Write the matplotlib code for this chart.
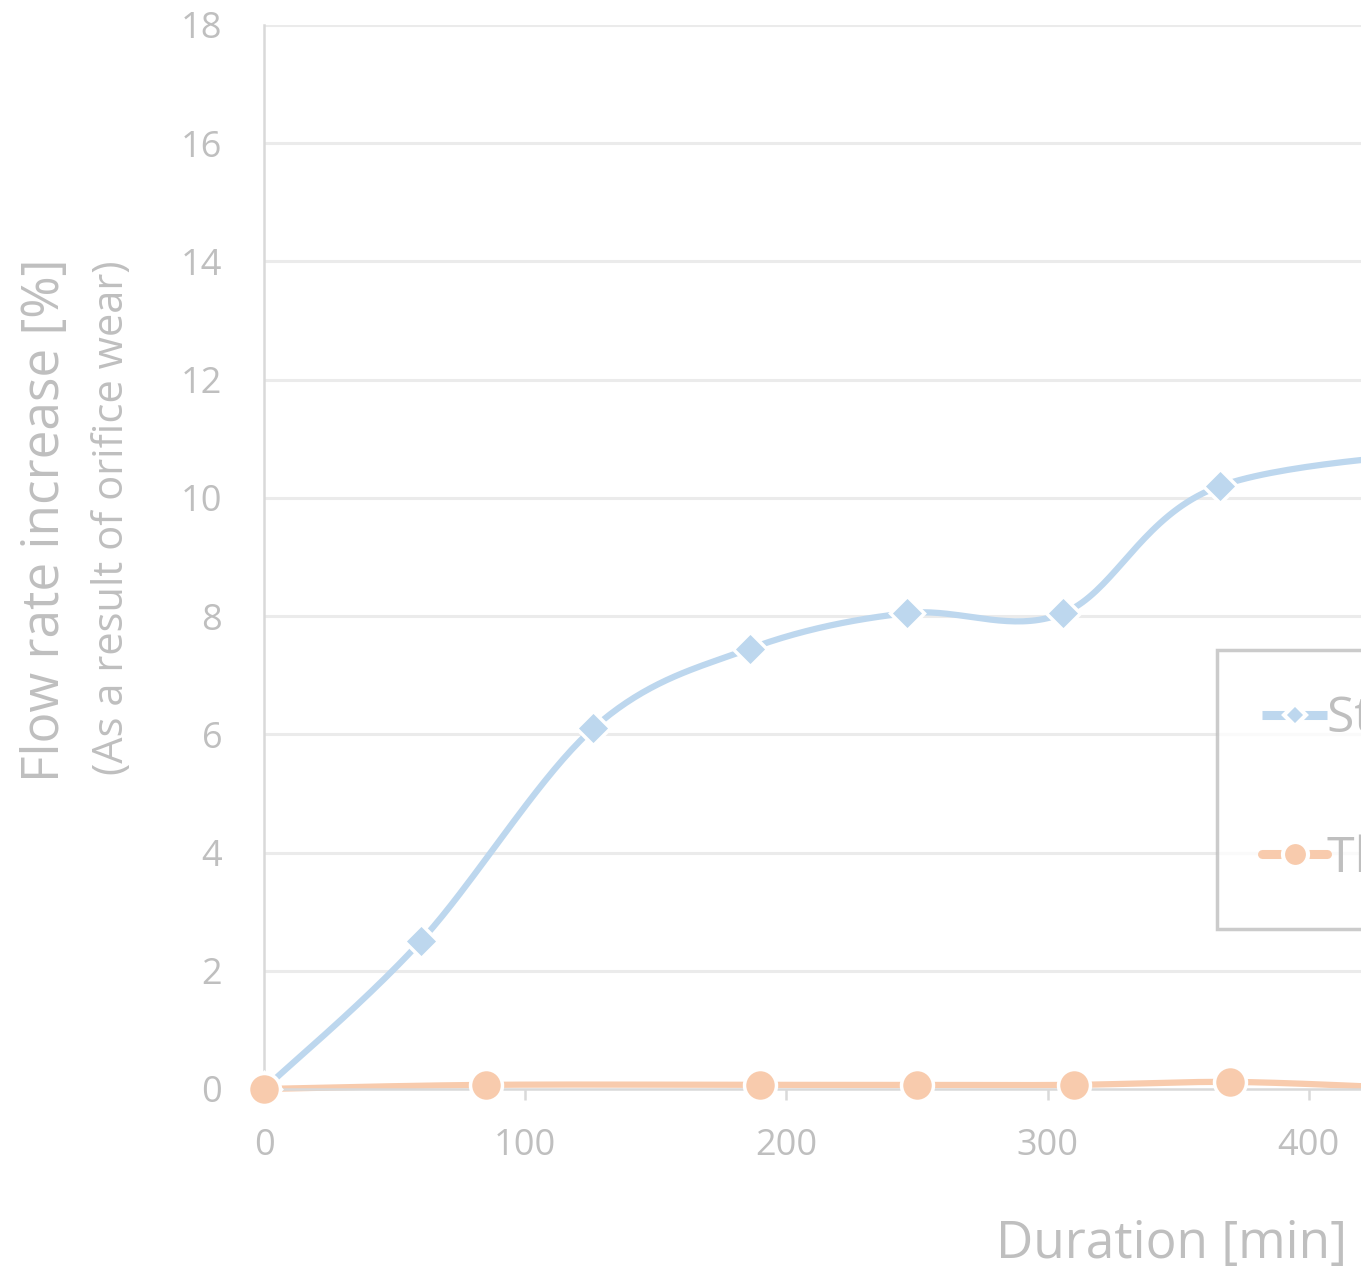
import numpy as np
import matplotlib
matplotlib.use("Agg")
import matplotlib.pyplot as plt
from matplotlib.lines import Line2D

# ---- data ----
std_x = [0, 60, 126, 186, 246, 306, 366, 486]
std_y = [0.0, 2.5, 6.1, 7.45, 8.05, 8.05, 10.2, 10.9]
thr_x = [0, 85, 190, 250, 310, 370, 430]
thr_y = [0.0, 0.07, 0.07, 0.07, 0.07, 0.12, 0.03]
series_names = ["Standard orifice", "Thermally treated orifice"]
x_ticks = [0, 100, 200, 300, 400]
y_ticks = [0, 2, 4, 6, 8, 10, 12, 14, 16, 18]

BLUE = "#BDD7EE"
ORANGE = "#F8CBAD"
TXT = "#BFBFBF"
GRID = "#EBEBEB"
FONT = "Open Sans"

plt.rcParams['font.family'] = [FONT, 'DejaVu Sans']

W, H = 1361, 1274
fig = plt.figure(figsize=(W / 100, H / 100), dpi=100)

# axes geometry (pixels): left 264, bottom 1089, top 25, 2.612 px per minute
px_per_x = 2.612
xmax = 700
left = 264 / W
bottom = 1 - 1089 / H
height = (1089 - 25) / H
width = xmax * px_per_x / W
ax = fig.add_axes([left, bottom, width, height])
ax.set_xlim(0, xmax)
ax.set_ylim(0, 18)

yscale = (1064 / 18) / px_per_x


def smooth(xs, ys, n=40):
    # Excel-like smoothing: parametric Catmull-Rom in display-proportional space
    P = np.column_stack([np.asarray(xs, float), np.asarray(ys, float) * yscale])
    out = [P[0]]
    for i in range(len(P) - 1):
        p0 = P[i - 1] if i > 0 else P[i]
        p1 = P[i]
        p2 = P[i + 1]
        p3 = P[i + 2] if i + 2 < len(P) else P[i + 1]
        c1 = p1 + (p2 - p0) / 6
        c2 = p2 - (p3 - p1) / 6
        t = np.linspace(0, 1, n)[1:, None]
        seg = ((1 - t) ** 3) * p1 + 3 * ((1 - t) ** 2) * t * c1 + 3 * (1 - t) * t ** 2 * c2 + t ** 3 * p2
        out.extend(seg)
    out = np.array(out)
    return out[:, 0], out[:, 1] / yscale


for v in y_ticks[1:]:
    ax.axhline(v, color=GRID, lw=2.2, zorder=0)

sx, sy = smooth(std_x, std_y)
ax.plot(sx, sy, color=BLUE, lw=4.5, solid_capstyle='round', zorder=2, clip_on=False)
ax.plot(std_x, std_y, ls='none', marker='D', ms=17, mfc=BLUE, mec='white', mew=2.5, zorder=3, clip_on=False)

tx, ty = smooth(thr_x, thr_y)
ax.plot(tx, ty, color=ORANGE, lw=4.5, solid_capstyle='round', zorder=2, clip_on=False)
ax.plot(thr_x, thr_y, ls='none', marker='o', ms=23, mfc=ORANGE, mec='white', mew=2.5, zorder=4, clip_on=False)

for s in ['top', 'right']:
    ax.spines[s].set_visible(False)
ax.spines['left'].set_color("#D9D9D9")
ax.spines['left'].set_linewidth(1.8)
ax.spines['bottom'].set_color("#D9D9D9")
ax.spines['bottom'].set_linewidth(1.8)

ax.set_xticks(x_ticks)
ax.set_yticks(y_ticks)
ax.tick_params(axis='x', length=8, width=1.8, color="#D9D9D9", labelcolor=TXT, labelsize=26, pad=20, direction='out')
ax.tick_params(axis='y', length=0, labelcolor=TXT, labelsize=26, pad=30)

fig.text(1171 / W, 1 - 1244 / H, "Duration [min]", ha='center', va='center', fontsize=37, color=TXT)
fig.text(46 / W, 1 - 520 / H, "Flow rate increase [%]", ha='center', va='center', rotation=90, fontsize=37, color=TXT)
fig.text(112 / W, 1 - 518 / H, "(As a result of orifice wear)", ha='center', va='center', rotation=90, fontsize=30, color=TXT)

handles = [
    Line2D([], [], color=BLUE, lw=6.5, marker='D', ms=11, mfc=BLUE, mec='white', mew=3, solid_capstyle='butt'),
    Line2D([], [], color=ORANGE, lw=6.5, marker='o', ms=18, mfc=ORANGE, mec='white', mew=3, solid_capstyle='round'),
]
leg = fig.legend(handles, series_names, loc='upper left', bbox_to_anchor=(1217 / W, 1 - 650 / H),
                 frameon=True, fontsize=36, labelcolor=TXT, labelspacing=1.78, borderpad=0.9,
                 handlelength=1.3, handletextpad=0.0, borderaxespad=0, fancybox=False)
leg.get_frame().set_edgecolor("#BFBFBF")
leg.get_frame().set_linewidth(2.5)

fig.savefig("out.png", dpi=100)
